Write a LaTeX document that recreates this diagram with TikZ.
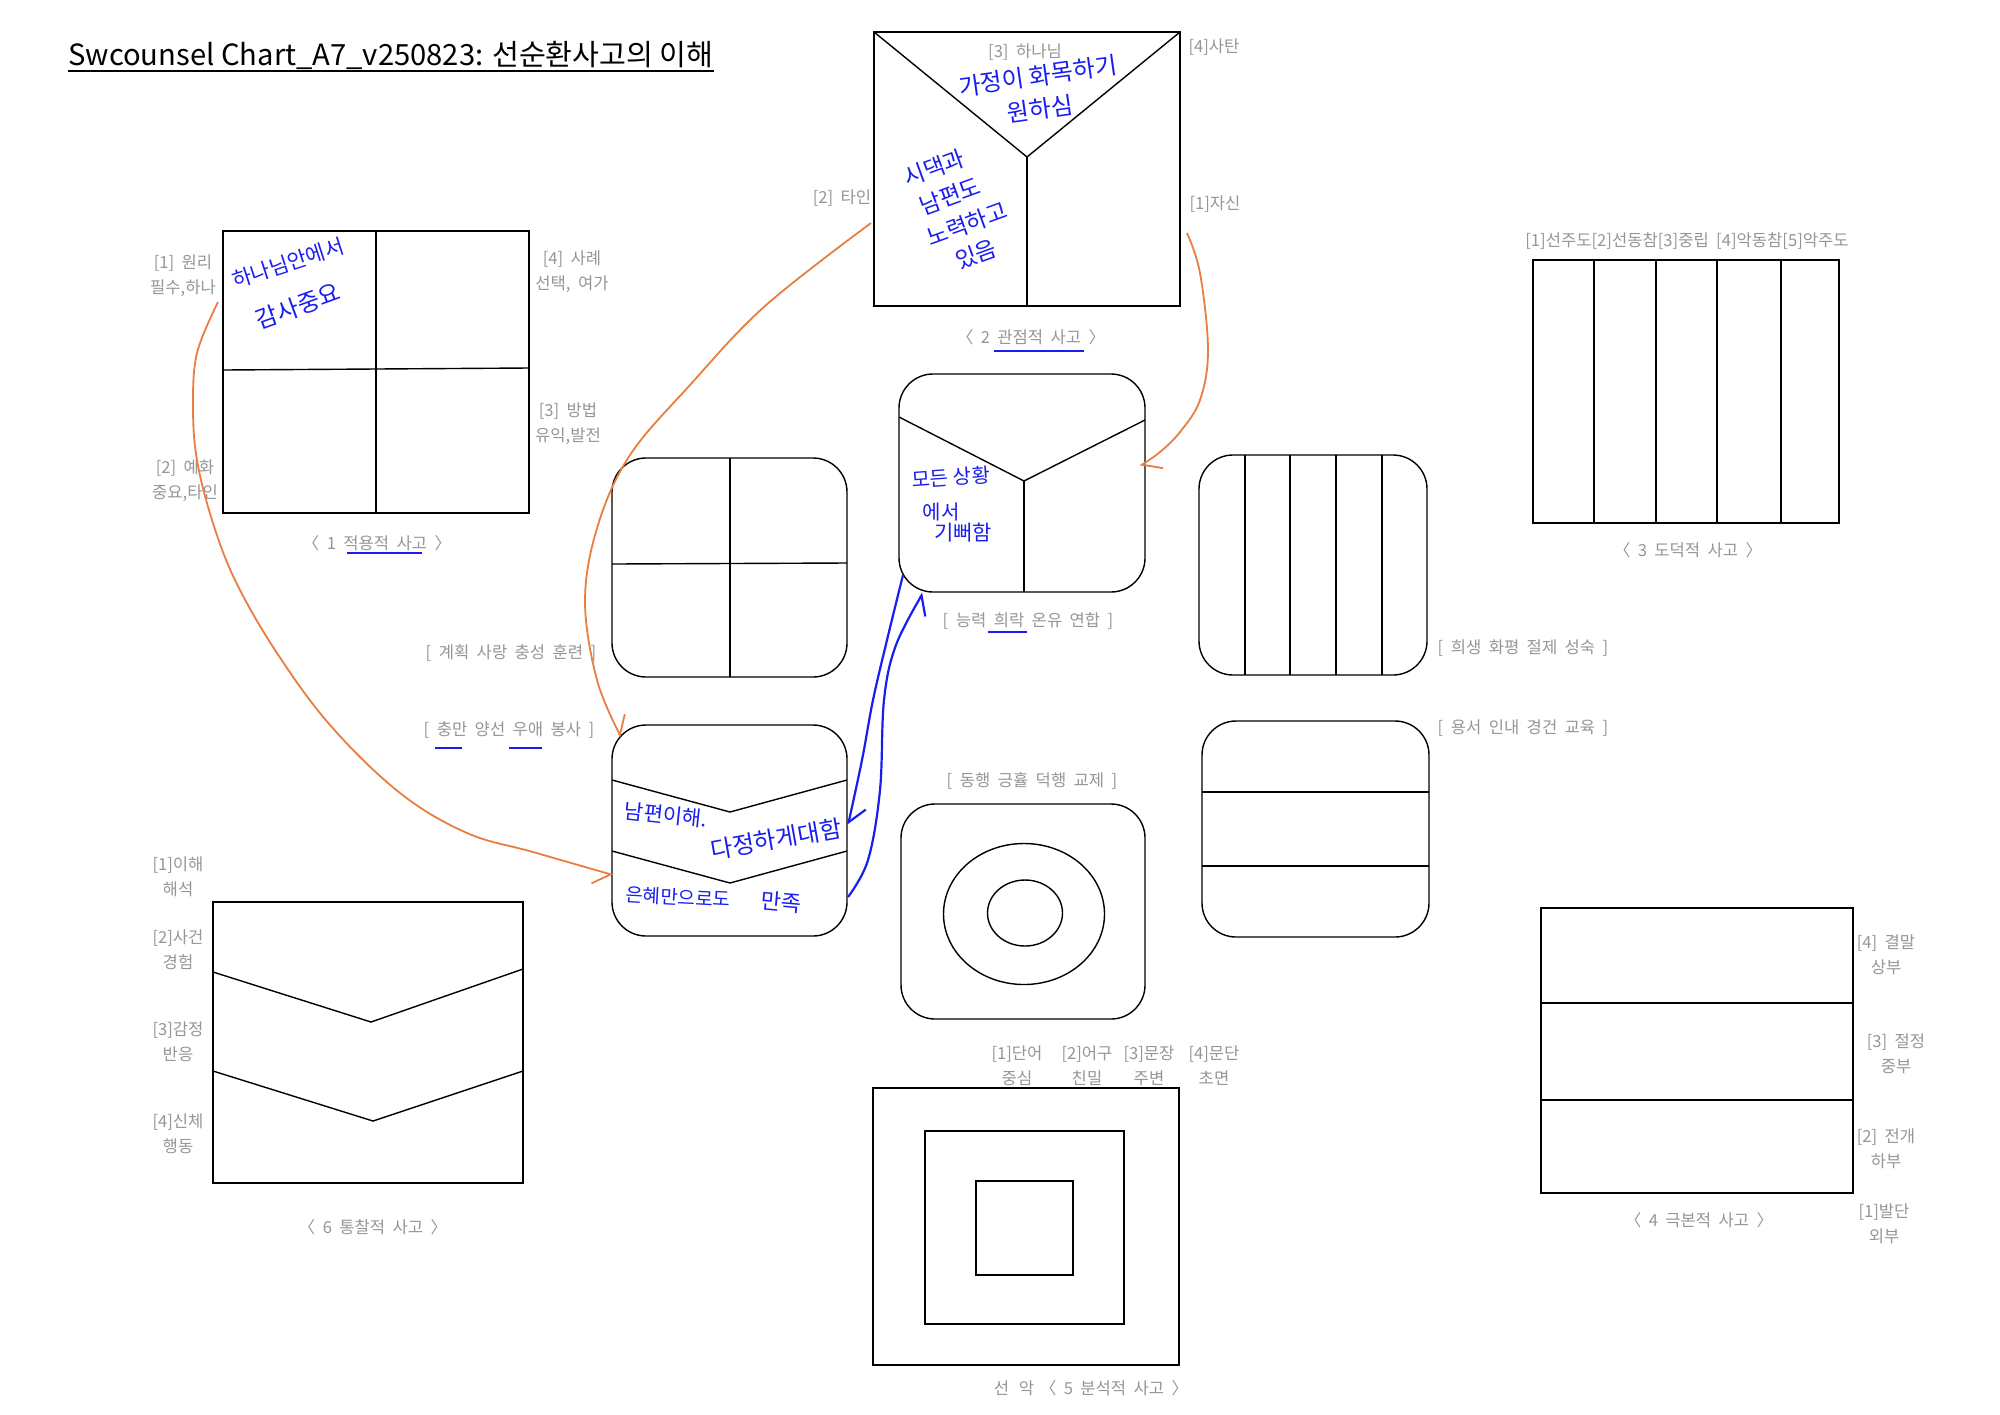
\documentclass[tikz,border=0pt]{standalone}
\usepackage{fontspec}
\setmainfont{Noto Sans CJK KR}
\newfontfamily\lblfont[WordSpace=2]{Noto Sans CJK KR}
\usetikzlibrary{arrows.meta}
\definecolor{lblgray}{RGB}{150,150,150}
\definecolor{hwblue}{RGB}{25,30,240}
\definecolor{ocurve}{RGB}{232,126,64}
\begin{document}
\begin{tikzpicture}[x=0.5pt,y=-0.5pt,
  boxline/.style={draw=black,line width=0.7pt},
  rbox/.style={draw=black,line width=0.7pt,rounded corners=17pt},
  lbl/.style={text=lblgray,font=\lblfont\fontsize{8.3}{12.5}\selectfont,align=center,inner sep=0pt},
  hw/.style={text=hwblue,font=\fontsize{11}{12}\selectfont,inner sep=0pt},
  uline/.style={draw=hwblue,line width=1.1pt},
  ocon/.style={draw=ocurve,line width=0.9pt},
  bcon/.style={draw=hwblue,line width=1.1pt},
  tipL/.style={-{Straight Barb[length=8pt,width=14pt,harpoon]}},
  tipR/.style={-{Straight Barb[length=8pt,width=14pt,harpoon,swap]}}
]
\useasboundingbox (0,0) rectangle (2000,1414);
\fill[white] (0,0) rectangle (2000,1414);

% ---------- title ----------
\node[anchor=base west,font=\fontsize{14.6}{17}\selectfont,inner sep=0pt] (title) at (68,65)
  {Swcounsel Chart\_A7\_v250823: 선순환사고의 이해};
\draw[line width=1pt] ([yshift=-3pt]title.base west) -- ([yshift=-3pt]title.base east);

% ---------- 1 적용적 사고 ----------
\draw[boxline] (223,231) rectangle (529,513);
\draw[boxline] (376,231) -- (376,513);
\draw[boxline] (223,370) -- (529,368);
\node[lbl] (l1a) at (183,276) {[1] 원리\\필수,하나};
\node[lbl] (l1b) at (572,272) {[4] 사례\\선택, 여가};
\node[lbl] (l1c) at (568,424) {[3] 방법\\유익,발전};
\node[lbl] (l1d) at (185,481) {[2] 예화\\중요,타인};
\node[lbl] (c1) at (377,543) {〈 1 적용적 사고 〉};
\draw[uline] (347,553) -- (422,553);
\node[hw,font=\fontsize{10.5}{12}\selectfont,rotate=18] (h1a) at (288,263) {하나님안에서};
\node[hw,font=\fontsize{12}{12}\selectfont,rotate=20] (h1b) at (298,306) {감사중요};

% ---------- 2 관점적 사고 ----------
\draw[boxline] (874,32) rectangle (1180,306);
\draw[boxline] (874,32) -- (1027,157) -- (1180,32);
\draw[boxline] (1027,157) -- (1027,306);
\node[lbl] (l2a) at (1025,52) {[3] 하나님};
\node[lbl] (l2b) at (1214,47) {[4]사탄};
\node[lbl] (l2c) at (1215,204) {[1]자신};
\node[lbl] (l2d) at (842,198) {[2] 타인};
\node[lbl] (c2) at (1031,337) {〈 2 관점적 사고 〉};
\draw[uline] (994,351) -- (1084,351);
\node[hw,font=\fontsize{12}{12}\selectfont,rotate=8] (h2a) at (1038,76) {가정이 화목하기};
\node[hw,font=\fontsize{12}{12}\selectfont,rotate=8] (h2b) at (1040,109) {원하심};
\node[hw,font=\fontsize{11.5}{12}\selectfont,rotate=20] (h2c) at (934,168) {시댁과};
\node[hw,font=\fontsize{11.5}{12}\selectfont,rotate=20] (h2d) at (950,196) {남편도};
\node[hw,font=\fontsize{11.5}{12}\selectfont,rotate=20] (h2e) at (967,224) {노력하고};
\node[hw,font=\fontsize{11.5}{12}\selectfont,rotate=20] (h2f) at (976,254) {있음};

% ---------- 3 도덕적 사고 ----------
\draw[boxline] (1533,260) rectangle (1839,523);
\foreach \xx in {1594,1656,1717,1781} \draw[boxline] (\xx,260) -- (\xx,523);
\node[lbl] (l3) at (1687,241) {[1]선주도[2]선동참[3]중립 [4]악동참[5]악주도};
\node[lbl] (c3) at (1688,550) {〈 3 도덕적 사고 〉};

% ---------- 4 극본적 사고 ----------
\draw[boxline] (1541,908) rectangle (1853,1193);
\draw[boxline] (1541,1003) -- (1853,1003);
\draw[boxline] (1541,1100) -- (1853,1100);
\node[lbl] (l4a) at (1886,955) {[4] 결말\\상부};
\node[lbl] (l4b) at (1896,1054) {[3] 절정\\중부};
\node[lbl] (l4c) at (1886,1149) {[2] 전개\\하부};
\node[lbl] (l4d) at (1884,1224) {[1]발단\\외부};
\node[lbl] (c4) at (1699,1220) {〈 4 극본적 사고 〉};

% ---------- 5 분석적 사고 ----------
\draw[boxline] (873,1088) rectangle (1179,1365);
\draw[boxline] (925,1131) rectangle (1124,1324);
\draw[boxline] (976,1181) rectangle (1073,1275);
\node[lbl] (l5a) at (1017,1066) {[1]단어\\중심};
\node[lbl] (l5b) at (1087,1066) {[2]어구\\친밀};
\node[lbl] (l5c) at (1149,1066) {[3]문장\\주변};
\node[lbl] (l5d) at (1214,1066) {[4]문단\\초면};
\node[lbl] (l5e) at (1014,1388) {선\hspace{0.6em}악};
\node[lbl] (c5) at (1114,1388) {〈 5 분석적 사고 〉};

% ---------- 6 통찰적 사고 ----------
\draw[boxline] (213,902) rectangle (523,1183);
\draw[boxline] (213,972) -- (371,1022) -- (523,969);
\draw[boxline] (213,1071) -- (373,1121) -- (523,1071);
\node[lbl] (l6a) at (178,877) {[1]이해\\해석};
\node[lbl] (l6b) at (178,950) {[2]사건\\경험};
\node[lbl] (l6c) at (178,1042) {[3]감정\\반응};
\node[lbl] (l6d) at (178,1134) {[4]신체\\행동};
\node[lbl] (c6) at (373,1227) {〈 6 통찰적 사고 〉};

% ---------- rounded boxes ----------
% quadrants
\draw[rbox] (612,458) rectangle (847,677);
\draw[boxline] (730,458) -- (730,677);
\draw[boxline] (612,564) -- (847,563);
\node[lbl] (r1) at (511,653) {[ 계획 사랑 충성 훈련 ]};

% Y shape
\draw[rbox] (899,374) rectangle (1145,592);
\draw[boxline] (899,417) -- (1024,481) -- (1145,420);
\draw[boxline] (1024,481) -- (1024,592);
\node[lbl] (r2) at (1028,621) {[ 능력 희락 온유 연합 ]};
\draw[uline] (988,632) -- (1027,632);
\node[hw,font=\fontsize{10}{11}\selectfont,rotate=4] (h3a) at (951,477) {모든 상황};
\node[hw,font=\fontsize{10}{11}\selectfont] (h3b) at (941,512) {에서};
\node[hw,font=\fontsize{10.5}{11}\selectfont] (h3c) at (963,533) {기뻐함};

% vertical stripes
\draw[rbox] (1199,455) rectangle (1427,675);
\foreach \xx in {1245,1290,1336,1382} \draw[boxline] (\xx,455) -- (\xx,675);
\node[lbl] (r3) at (1523,648) {[ 희생 화평 절제 성숙 ]};

% horizontal bands
\draw[rbox] (1202,721) rectangle (1429,937);
\draw[boxline] (1202,792) -- (1429,792);
\draw[boxline] (1202,866) -- (1429,866);
\node[lbl] (r4) at (1523,728) {[ 용서 인내 경건 교육 ]};

% chevrons
\draw[rbox] (612,725) rectangle (847,936);
\draw[boxline] (612,780) -- (730,812) -- (847,780);
\draw[boxline] (612,851) -- (730,883) -- (847,851);
\node[lbl] (r5) at (509,730) {[ 충만 양선 우애 봉사 ]};
\draw[uline] (435,748) -- (462,748);
\draw[uline] (509,748) -- (542,748);
\node[hw,font=\fontsize{10.5}{11}\selectfont,rotate=-6] (h5a) at (666,815) {남편이해.};
\node[hw,font=\fontsize{12}{13}\selectfont,rotate=10] (h5b) at (776,839) {다정하게대함};
\node[hw,font=\fontsize{9.5}{11}\selectfont,rotate=-3] (h5c) at (678,897) {은혜만으로도};
\node[hw,font=\fontsize{11}{11}\selectfont,rotate=-5] (h5d) at (781,902) {만족};

% circles
\draw[rbox] (901,804) rectangle (1145,1019);
\draw[boxline] (1024,914) ellipse [x radius=80.5, y radius=70.5];
\draw[boxline] (1025,913) ellipse [x radius=37.5, y radius=33];
\node[lbl] (r6) at (1032,781) {[ 동행 긍휼 덕행 교제 ]};

% ---------- connectors ----------
\coordinate (oAs) at (871,223);
\coordinate (oAe) at (621,737);
\coordinate (oBs) at (218,302);
\coordinate (oBe) at (613,875);
\coordinate (oCs) at (1187,233);
\coordinate (oCe) at (1140,466);
\coordinate (bDs) at (903,575);
\coordinate (bDe) at (848,825);
\coordinate (bEs) at (848,897);
\coordinate (bEe) at (923,593);

\draw[ocon,tipL] plot[smooth,tension=0.6] coordinates
  {(oAs) (765,306) (690,385) (630,455) (598,525) (585,600) (597,680) (oAe)};
\draw[ocon,tipR] plot[smooth,tension=0.6] coordinates
  {(oBs) (197,353) (193,407) (197,460) (212,520) (235,580) (275,650) (330,725) (400,793) (467,833) (533,852) (oBe)};
\draw[ocon,tipL] plot[smooth,tension=0.6] coordinates
  {(oCs) (1200,273) (1208,350) (1200,400) (1180,432) (1160,452) (oCe)};
\draw[bcon,tipL] plot[smooth,tension=0.6] coordinates
  {(bDs) (887,640) (873,700) (862,760) (bDe)};
\draw[bcon,tipR] plot[smooth,tension=0.6] coordinates
  {(bEs) (868,860) (880,790) (884,700) (896,645) (bEe)};
\end{tikzpicture}
\end{document}
